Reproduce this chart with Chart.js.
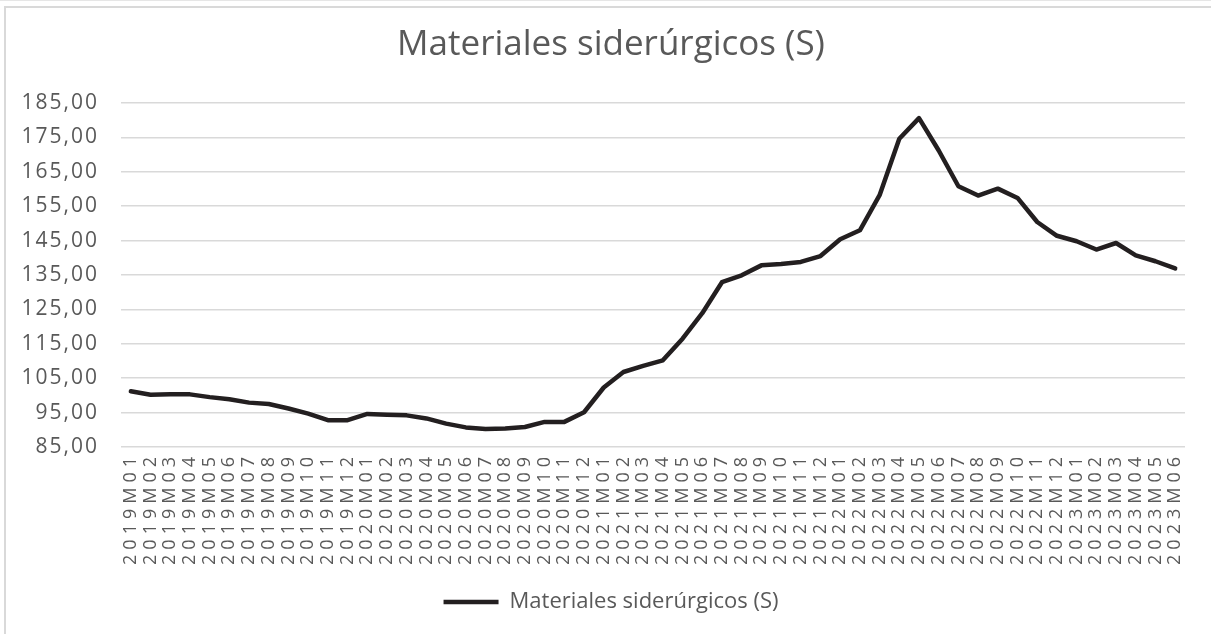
<!DOCTYPE html>
<html>
<head>
<meta charset="utf-8">
<script src="https://cdn.jsdelivr.net/npm/chart.js@4/dist/chart.umd.min.js"></script>
<style>
  html, body { margin: 0; padding: 0; background: #fff; }
  body { width: 1211px; height: 634px; position: relative; overflow: hidden; }
  #topline { position: absolute; left: 0; top: 0; width: 1211px; height: 1px; background: #e6e6e6; }
  #frame { position: absolute; left: 4px; top: 6px; width: 1230px; height: 660px; border-left: 2px solid #d9d9d9; border-top: 2px solid #d9d9d9; }
  #wrap { position: absolute; left: 0; top: 0; width: 1211px; height: 634px; }
</style>
</head>
<body>
<div id="topline"></div>
<div id="frame"></div>
<div id="wrap"><canvas id="myChart"></canvas></div>
<script>
const titleText = 'Materiales siderúrgicos (S)';
const seriesName = 'Materiales siderúrgicos (S)';
const years = [2019, 2020, 2021, 2022, 2023];
const monthsLastYear = 6;

// 2019M01 .. 2023M06
const months = [];
for (let y of years) {
	let last = (y == 2023) ? monthsLastYear : 12;
	for (let m = 1; m <= last; m++) {
		months.push(y + 'M' + (m < 10 ? '0' + m : m));
	}
}

const values = [
	101.2, 100.2, 100.3, 100.3, 99.5, 98.9, 97.9, 97.5, 96.2, 94.7, 92.8, 92.8,
	94.6, 94.4, 94.2, 93.3, 91.8, 90.7, 90.2, 90.4, 90.8, 92.3, 92.3, 95.1,
	102.3, 106.8, 108.6, 110.2, 116.5, 123.9, 132.9, 134.9, 137.8, 138.2, 138.8, 140.5,
	145.4, 148.0, 158.2, 174.6, 180.6, 171.2, 160.8, 158.1, 160.1, 157.4, 150.4, 146.4,
	144.8, 142.4, 144.3, 140.7, 139.0, 136.9
];

const yMin = 85;
const yMax = 185;
const yStep = 10;

const grey = '#595959';
const gridGrey = '#d9d9d9';
const lineColor = '#231f20';
const fontName = "'Open Sans', 'Noto Sans', sans-serif";

// wider letter spacing on axis labels, like the original
const spacedLabels = {
	id: 'spacedLabels',
	beforeDraw(chart) {
		const spacing = {x: '5px', y: '2px'};
		for (const id in spacing) {
			const scale = chart.scales[id];
			if (!scale || scale._spaced) continue;
			const orig = scale.drawLabels;
			scale.drawLabels = function(area) {
				this.ctx.save();
				this.ctx.letterSpacing = spacing[id];
				orig.call(this, area);
				this.ctx.restore();
			};
			scale._spaced = true;
		}
	}
};

let ctx = document.getElementById('myChart').getContext('2d');
let myChart = new Chart(ctx, {
	type: 'line',
	data: {
		labels: months,
		datasets: [{
			label: seriesName,
			data: values,
			borderColor: lineColor,
			backgroundColor: lineColor,
			borderWidth: 4.5,
			borderCapStyle: 'round',
			borderJoinStyle: 'round',
			pointRadius: 0,
			tension: 0,
			fill: false
		}]
	},
	options: {
		responsive: true,
		maintainAspectRatio: false,
		animation: false,
		layout: {
			padding: {left: 15, right: 4, top: 0, bottom: 11}
		},
		plugins: {
			title: {
				display: true,
				text: titleText,
				color: grey,
				font: {family: fontName, size: 35, weight: 'normal'},
				padding: {top: 24, bottom: 37}
			},
			legend: {
				position: 'bottom',
				labels: {
					color: grey,
					font: {family: fontName, size: 22},
					usePointStyle: true,
					pointStyle: 'line',
					boxWidth: 40,
					pointStyleWidth: 55,
					padding: 10
				}
			},
			tooltip: {enabled: false}
		},
		scales: {
			x: {
				offset: true,
				grid: {display: false, drawTicks: false},
				border: {display: false},
				ticks: {
					color: grey,
					font: {family: fontName, size: 18},
					autoSkip: false,
					minRotation: 90,
					maxRotation: 90,
					padding: 5
				},
				afterFit: function(scale) { scale.height = 134; }
			},
			y: {
				min: yMin,
				max: yMax,
				grid: {color: gridGrey, lineWidth: 1.5, drawTicks: false},
				border: {display: false},
				ticks: {
					stepSize: yStep,
					color: grey,
					font: {family: fontName, size: 21},
					padding: 22,
					callback: function(v) { return v.toFixed(2).replace('.', ','); }
				},
				afterFit: function(scale) { scale.width = 106; }
			},
			// empty right-hand spacer so the plot ends where the original does
			yRight: {
				position: 'right',
				grid: {display: false, drawTicks: false},
				border: {display: false},
				ticks: {display: false},
				afterFit: function(scale) { scale.width = 22; }
			}
		}
	},
	plugins: [spacedLabels]
});
</script>
</body>
</html>
